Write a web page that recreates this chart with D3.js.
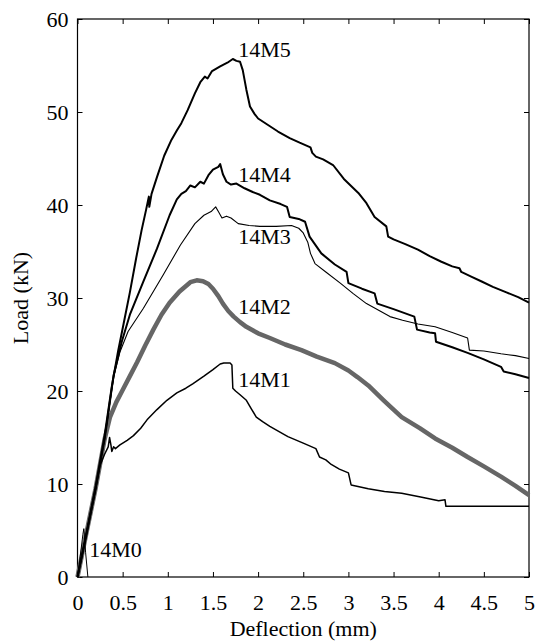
<!DOCTYPE html>
<html>
<head>
<meta charset="utf-8">
<script src="https://cdn.jsdelivr.net/npm/d3@7"></script>
<style>
  body { margin: 0; background: #fff; }
  svg { display: block; font-family: "Liberation Serif", "Times New Roman", serif; }
</style>
</head>
<body>
<div id="chart"></div>
<script>
// load-deflection curves, [deflection mm, load kN]
const m0 = [[0,0],[0.03,2.2],[0.06,4.6],[0.07,5.2],[0.09,2.6],[0.115,0]]

const m1 = [[0,0],[0.1,4.6],[0.2,9.3],[0.25,12.0],[0.3,13.2],[0.34,14.0],[0.355,15.0],[0.37,14.2],[0.38,13.5],
  [0.4,14.0],[0.42,13.8],[0.47,14.2],[0.55,14.7],[0.62,15.2],[0.7,16.0],[0.77,16.9],[0.88,18.0],[0.99,19.0],
  [1.1,19.8],[1.2,20.3],[1.28,20.8],[1.4,21.6],[1.5,22.3],[1.58,22.9],[1.62,23.0],[1.69,23.0],[1.71,22.8],
  [1.72,20.3],[1.75,20.0],[1.8,19.6],[1.87,19.0],[1.93,18.0],[1.98,17.2],[2.05,16.7],[2.13,16.2],[2.33,15.1],
  [2.5,14.4],[2.64,13.8],[2.68,12.9],[2.75,12.6],[2.81,12.1],[2.9,11.6],[3.0,11.2],[3.03,9.9],[3.22,9.5],
  [3.4,9.2],[3.59,9.0],[3.8,8.6],[4.0,8.2],[4.07,8.3],[4.08,7.6],[5.0,7.6]]

const m2 = [[0,0],[0.1,4.8],[0.2,9.5],[0.3,14.8],[0.36,17.2],[0.43,18.8],[0.5,20.1],[0.58,21.6],[0.66,23.1],
  [0.75,24.9],[0.84,26.6],[0.93,28.2],[1.02,29.5],[1.13,30.7],[1.25,31.7],[1.32,31.9],[1.39,31.8],[1.45,31.5],
  [1.5,31.0],[1.56,30.2],[1.61,29.4],[1.67,28.6],[1.73,28.0],[1.8,27.4],[1.87,26.9],[2.0,26.2],[2.13,25.7],
  [2.3,25.0],[2.48,24.4],[2.65,23.7],[2.85,23.0],[3.0,22.2],[3.1,21.5],[3.22,20.6],[3.39,19.0],[3.5,18.0],
  [3.59,17.2],[3.79,16.0],[3.96,14.9],[4.15,13.9],[4.32,12.9],[4.5,11.9],[4.69,10.8],[4.85,9.8],[5.0,8.8]]

const m3 = [[0,0],[0.1,4.8],[0.2,9.6],[0.3,14.8],[0.4,21.5],[0.47,24.2],[0.56,26.4],[0.73,28.9],[0.95,32.5],
  [1.14,35.7],[1.3,38],[1.4,38.9],[1.48,39.3],[1.53,39.8],[1.56,39.3],[1.6,38.6],[1.65,38.8],[1.7,38.6],
  [1.78,38.0],[1.9,37.8],[2.02,37.7],[2.2,37.7],[2.37,37.8],[2.45,37.5],[2.5,37.0],[2.55,36.0],[2.58,34.8],
  [2.63,33.7],[2.75,32.8],[2.91,31.6],[3.05,30.5],[3.2,29.4],[3.35,28.6],[3.46,28.0],[3.6,27.6],[3.77,27.2],
  [3.96,26.9],[4.15,26.3],[4.32,25.7],[4.34,24.4],[4.5,24.3],[4.69,24.0],[4.85,23.8],[5.0,23.5]]

const m4 = [[0,0],[0.1,4.8],[0.2,9.6],[0.3,14.8],[0.4,21.7],[0.49,25.3],[0.58,28.2],[0.73,31.8],[0.88,35.3],
  [1.02,38.9],[1.1,40.6],[1.15,41.2],[1.2,41.5],[1.25,42.1],[1.3,41.9],[1.36,42.5],[1.4,42.3],[1.45,43.2],
  [1.5,43.8],[1.56,44.1],[1.58,44.4],[1.61,43.3],[1.65,42.5],[1.7,42.2],[1.76,42.3],[1.85,41.8],[1.94,41.4],
  [2.02,41.1],[2.13,40.5],[2.25,40.1],[2.32,39.8],[2.35,38.7],[2.45,38.5],[2.52,38.2],[2.57,36.6],[2.7,34.8],
  [2.85,33.6],[2.98,32.8],[3.0,31.6],[3.15,31.0],[3.29,30.5],[3.32,29.4],[3.5,28.8],[3.73,28.0],[3.76,26.6],
  [3.9,26.3],[3.96,26.2],[3.97,25.3],[4.15,24.7],[4.32,24.1],[4.5,23.4],[4.69,22.6],[4.72,22.1],[4.85,21.8],[5.0,21.4]]

const m5 = [[0,0],[0.1,4.6],[0.2,9.6],[0.3,15.2],[0.38,20.5],[0.45,24.3],[0.51,27.2],[0.58,30.6],[0.65,34.3],
  [0.71,37.3],[0.76,39.5],[0.79,40.9],[0.795,39.8],[0.82,41.2],[0.88,43.0],[0.96,45.3],[1.04,47],[1.1,48],
  [1.15,48.8],[1.22,50.2],[1.3,52],[1.36,53.2],[1.41,53.8],[1.44,53.6],[1.49,54.4],[1.58,54.9],[1.66,55.3],
  [1.72,55.7],[1.76,55.5],[1.8,55.4],[1.83,54.5],[1.87,52.4],[1.91,50.6],[1.96,49.8],[2.0,49.3],[2.11,48.6],
  [2.22,47.9],[2.35,47.2],[2.46,46.7],[2.58,46.2],[2.6,45.6],[2.64,45.2],[2.72,44.9],[2.83,44.3],[2.95,42.8],
  [3.11,41.3],[3.2,40.2],[3.29,38.7],[3.42,37.7],[3.44,36.6],[3.5,36.3],[3.63,35.8],[3.77,35.2],[3.9,34.5],
  [4.03,33.9],[4.15,33.4],[4.23,33.2],[4.25,32.8],[4.36,32.3],[4.47,31.8],[4.6,31.2],[4.75,30.6],[4.88,30.1],[5.0,29.5]]

const xTicks = [0, 0.5, 1, 1.5, 2, 2.5, 3, 3.5, 4, 4.5, 5]
const yTicks = [0, 10, 20, 30, 40, 50, 60]

// curve labels: [text, deflection, load]
const labels = [['14M5', 1.78, 55.9], ['14M4', 1.78, 42.5], ['14M3', 1.78, 35.8],
  ['14M2', 1.78, 28.3], ['14M1', 1.78, 20.4], ['14M0', 0.13, 2.15]]

const width = 537
const height = 642
const margin = { top: 19, right: 8, bottom: 65, left: 77.5 }
const inner = { w: width - margin.left - margin.right, h: height - margin.top - margin.bottom }

const x = d3.scaleLinear().domain([0, 5]).range([0, inner.w])
const y = d3.scaleLinear().domain([0, 60]).range([inner.h, 0])

const svg = d3.select('#chart').append('svg')
  .attr('width', width).attr('height', height)

const g = svg.append('g').attr('transform', `translate(${margin.left},${margin.top})`)

const fmt = d3.format('~g')

// axes with inward ticks, mirrored on top/right
const styleAxis = sel => {
  sel.select('.domain').remove()
  sel.selectAll('line').attr('stroke', '#000')
  sel.selectAll('text').attr('fill', '#000').style('font-size', '22px').style('font-family', '"Liberation Serif", serif')
}
g.append('g').attr('transform', `translate(0,${inner.h})`)
  .call(d3.axisBottom(x).tickValues(xTicks).tickFormat(fmt).tickSizeInner(-5).tickSizeOuter(0).tickPadding(17))
  .call(styleAxis)
g.append('g')
  .call(d3.axisLeft(y).tickValues(yTicks).tickFormat(fmt).tickSizeInner(-5).tickSizeOuter(0).tickPadding(9))
  .call(styleAxis)
g.append('g')
  .call(d3.axisTop(x).tickValues(xTicks).tickFormat('').tickSizeInner(-5).tickSizeOuter(0))
  .call(styleAxis)
g.append('g').attr('transform', `translate(${inner.w},0)`)
  .call(d3.axisRight(y).tickValues(yTicks).tickFormat('').tickSizeInner(-5).tickSizeOuter(0))
  .call(styleAxis)

g.append('rect').attr('width', inner.w).attr('height', inner.h)
  .attr('fill', 'none').attr('stroke', '#000').attr('stroke-width', 1.2)

const line = d3.line().x(d => x(d[0])).y(d => y(d[1]))

const curves = [
  { data: m2, color: '#666', width: 4.5 },
  { data: m0, color: '#000', width: 1 },
  { data: m1, color: '#000', width: 1.5 },
  { data: m3, color: '#000', width: 1.1 },
  { data: m4, color: '#000', width: 2 },
  { data: m5, color: '#000', width: 2 }
]
curves.forEach(c => {
  g.append('path').datum(c.data).attr('d', line)
    .attr('fill', 'none').attr('stroke', c.color).attr('stroke-width', c.width)
    .attr('stroke-linejoin', 'round')
})

labels.forEach(([t, dx, ly]) => {
  g.append('text').attr('x', x(dx)).attr('y', y(ly))
    .style('font-size', '22px').attr('fill', '#000').text(t)
})

// axis titles
svg.append('text').attr('x', margin.left + inner.w / 2).attr('y', 636)
  .attr('text-anchor', 'middle').style('font-size', '22px').text('Deflection (mm)')
svg.append('text').attr('transform', `translate(28,${margin.top + inner.h / 2}) rotate(-90)`)
  .attr('text-anchor', 'middle').style('font-size', '22px').text('Load (kN)')
</script>
</body>
</html>
